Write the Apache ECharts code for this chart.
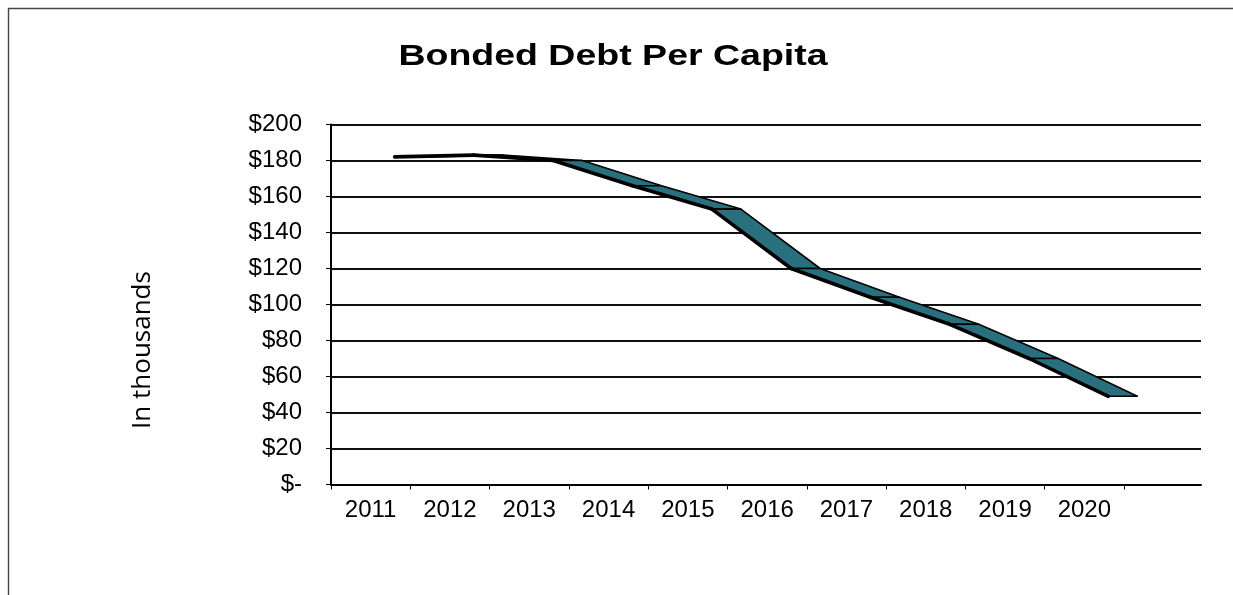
<!DOCTYPE html>
<html>
<head>
<meta charset="utf-8">
<title>Bonded Debt Per Capita</title>
<script src="https://cdn.jsdelivr.net/npm/echarts@6/dist/echarts.min.js"></script>
<style>
  html, body { margin: 0; padding: 0; background: #fff; }
  #chart { width: 1233px; height: 595px; }
</style>
</head>
<body>
<div id="chart"></div>
<script>
// Fiscal years on the category axis
const years = ['2011', '2012', '2013', '2014', '2015', '2016', '2017', '2018', '2019', '2020'];
// Bonded debt per capita, in thousands of dollars
const debtPerCapita = [182, 183, 180, 166, 153, 120, 104, 89, 70, 49];
// Value axis range and step
const yMin = 0;
const yMax = 200;
const yStep = 20;

// Ribbon depth (pixels) used to give the line its 3-D look
const RIBBON_SHIFT = 24;
const RIBBON_DEPTH = 29;
const RIBBON_FILL = '#29707f';

const FONT = '"Liberation Sans", Arial, sans-serif';

function renderRibbon(params, api) {
  const i = api.value(0);
  if (i >= debtPerCapita.length - 1) return null;
  const a = api.coord([i, debtPerCapita[i]]);
  const b = api.coord([i + 1, debtPerCapita[i + 1]]);
  const p1 = [a[0] + RIBBON_SHIFT, a[1]];
  const p2 = [b[0] + RIBBON_SHIFT, b[1]];
  const p3 = [b[0] + RIBBON_SHIFT + RIBBON_DEPTH, b[1]];
  const p4 = [a[0] + RIBBON_SHIFT + RIBBON_DEPTH, a[1]];
  return {
    type: 'group',
    children: [
      {
        type: 'polygon',
        shape: { points: [p1, p2, p3, p4] },
        style: { fill: RIBBON_FILL, stroke: '#000', lineWidth: 1.6, lineJoin: 'round' }
      },
      {
        type: 'polyline',
        shape: { points: [p1, p2] },
        style: { fill: null, stroke: '#000', lineWidth: 3.6, lineCap: 'round' }
      }
    ]
  };
}

const chart = echarts.init(document.getElementById('chart'), null, { renderer: 'canvas' });

chart.setOption({
  animation: false,
  backgroundColor: '#fff',
  graphic: [
    {
      type: 'rect',
      z: -10,
      shape: { x: 8.5, y: 8.5, width: 1400, height: 800 },
      style: { fill: null, stroke: '#444', lineWidth: 1.4 }
    },
    {
      type: 'text',
      x: 613,
      y: 57,
      scaleX: 1.25,
      style: {
        text: 'Bonded Debt Per Capita',
        font: 'bold 30px ' + FONT,
        fill: '#000',
        align: 'center',
        verticalAlign: 'middle'
      }
    },
    {
      type: 'text',
      x: 143,
      y: 350,
      rotation: Math.PI / 2,
      style: {
        text: 'In thousands',
        font: '26px "Open Sans", sans-serif',
        fill: '#000',
        align: 'center',
        verticalAlign: 'middle'
      }
    }
  ],
  grid: [
    // plot floor with gridlines (extends past the last category for depth)
    { left: 331, top: 124.5, right: 32, bottom: 110.5 },
    // category area holding the ribbon
    { left: 331, top: 124.5, width: 793, bottom: 110.5 }
  ],
  xAxis: [
    {
      gridIndex: 0,
      type: 'value',
      min: 0,
      max: 1,
      axisLine: { show: true, lineStyle: { color: '#000', width: 2 } },
      axisTick: { show: false },
      axisLabel: { show: false },
      splitLine: { show: false }
    },
    {
      gridIndex: 1,
      type: 'category',
      data: years,
      boundaryGap: true,
      axisLine: { show: false },
      axisTick: { show: true, length: 5, interval: 0, lineStyle: { color: '#000', width: 1 } },
      axisLabel: { color: '#000', fontSize: 24, fontFamily: FONT, margin: 14, interval: 0 },
      splitLine: { show: false }
    }
  ],
  yAxis: [
    {
      gridIndex: 0,
      type: 'value',
      min: yMin,
      max: yMax,
      interval: yStep,
      axisLine: { show: true, lineStyle: { color: '#000', width: 2 } },
      axisTick: { show: true, length: 5, lineStyle: { color: '#000', width: 1 } },
      axisLabel: {
        color: '#000',
        fontSize: 24,
        fontFamily: FONT,
        margin: 29,
        formatter: v => (v === 0 ? '$-' : '$' + v)
      },
      splitLine: { show: true, lineStyle: { color: '#111', width: 2 } }
    },
    {
      gridIndex: 1,
      type: 'value',
      min: yMin,
      max: yMax,
      interval: yStep,
      show: false
    }
  ],
  series: [
    {
      name: 'Bonded Debt Per Capita',
      type: 'custom',
      xAxisIndex: 1,
      yAxisIndex: 1,
      clip: false,
      renderItem: renderRibbon,
      data: debtPerCapita.map((v, i) => [i, v]),
      z: 5
    }
  ]
});
</script>
</body>
</html>
